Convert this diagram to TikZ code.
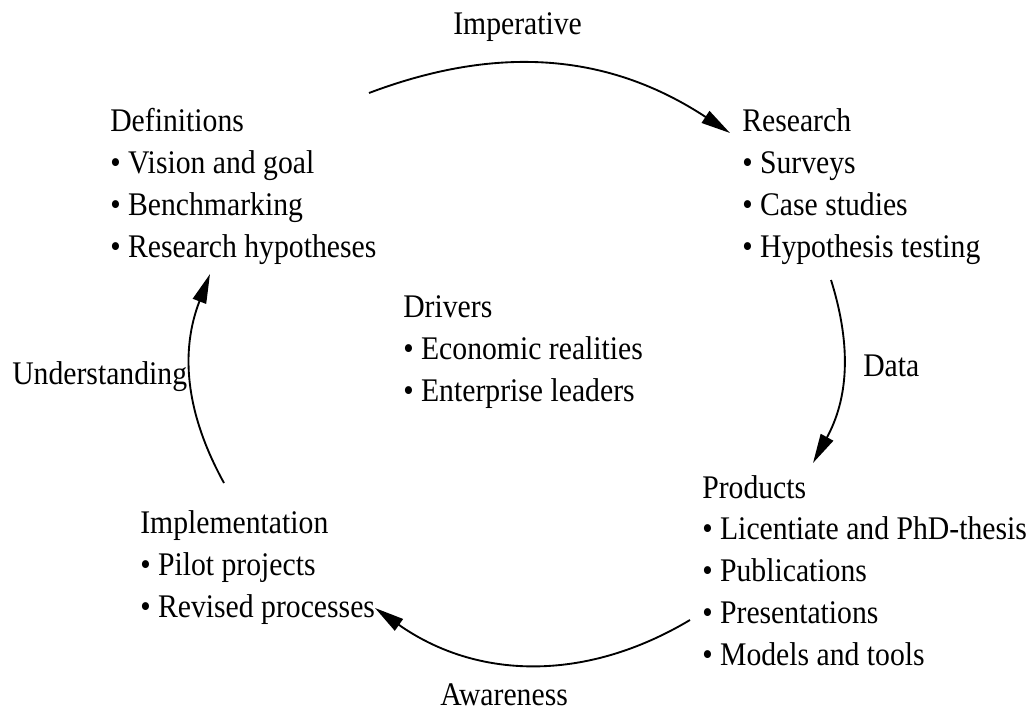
\documentclass[tikz,border=0pt]{standalone}
\usepackage{fontspec}
\setmainfont{Liberation Serif}[FakeStretch=0.9]
\usetikzlibrary{arrows.meta}
\begin{document}
\begin{tikzpicture}[x=0.75pt,y=0.75pt,
  every node/.style={inner sep=0pt, font=\fontsize{24.75}{31.4}\selectfont},
  block/.style={align=left, anchor=base west},
  label/.style={anchor=base west},
  cyclearrow/.style={line width=1.4pt, -{Triangle[length=22pt,width=10.5pt]}}]
\useasboundingbox (0,0) rectangle (1034,-712);

% Text blocks of the cycle (placed by the baseline of their last line)
\node[block] (defs) at (110,-257.1) {Definitions\\• Vision and goal\\• Benchmarking\\• Research hypotheses};
\node[block] (research) at (742,-257.1) {Research\\• Surveys\\• Case studies\\• Hypothesis testing};
\node[block] (drivers) at (403,-401.6) {Drivers\\• Economic realities\\• Enterprise leaders};
\node[block] (products) at (702,-665.5) {Products\\• Licentiate and PhD-thesis\\• Publications\\• Presentations\\• Models and tools};
\node[block] (impl) at (140,-617.6) {Implementation\\• Pilot projects\\• Revised processes};

% Labels of the transitions
\node[label] (imperative) at (453,-35) {Imperative};
\node[label] (data) at (863,-377) {Data};
\node[label] (awareness) at (440,-705) {Awareness};
\node[label] (understanding) at (12,-385) {Understanding};

% Arc end points
\coordinate (t1) at (369,-93);
\coordinate (t2) at (730,-133);
\coordinate (r1) at (831,-280);
\coordinate (r2) at (813,-463);
\coordinate (b1) at (690,-620);
\coordinate (b2) at (375,-608);
\coordinate (l1) at (224,-483);
\coordinate (l2) at (210,-274);

% The cycle arrows
\draw[cyclearrow] (t1) to[bend left=27] (t2);
\draw[cyclearrow] (r1) to[bend left=23] (r2);
\draw[cyclearrow] (b1) to[bend left=33] (b2);
\draw[cyclearrow] (l1) to[bend left=25] (l2);
\end{tikzpicture}
\end{document}
